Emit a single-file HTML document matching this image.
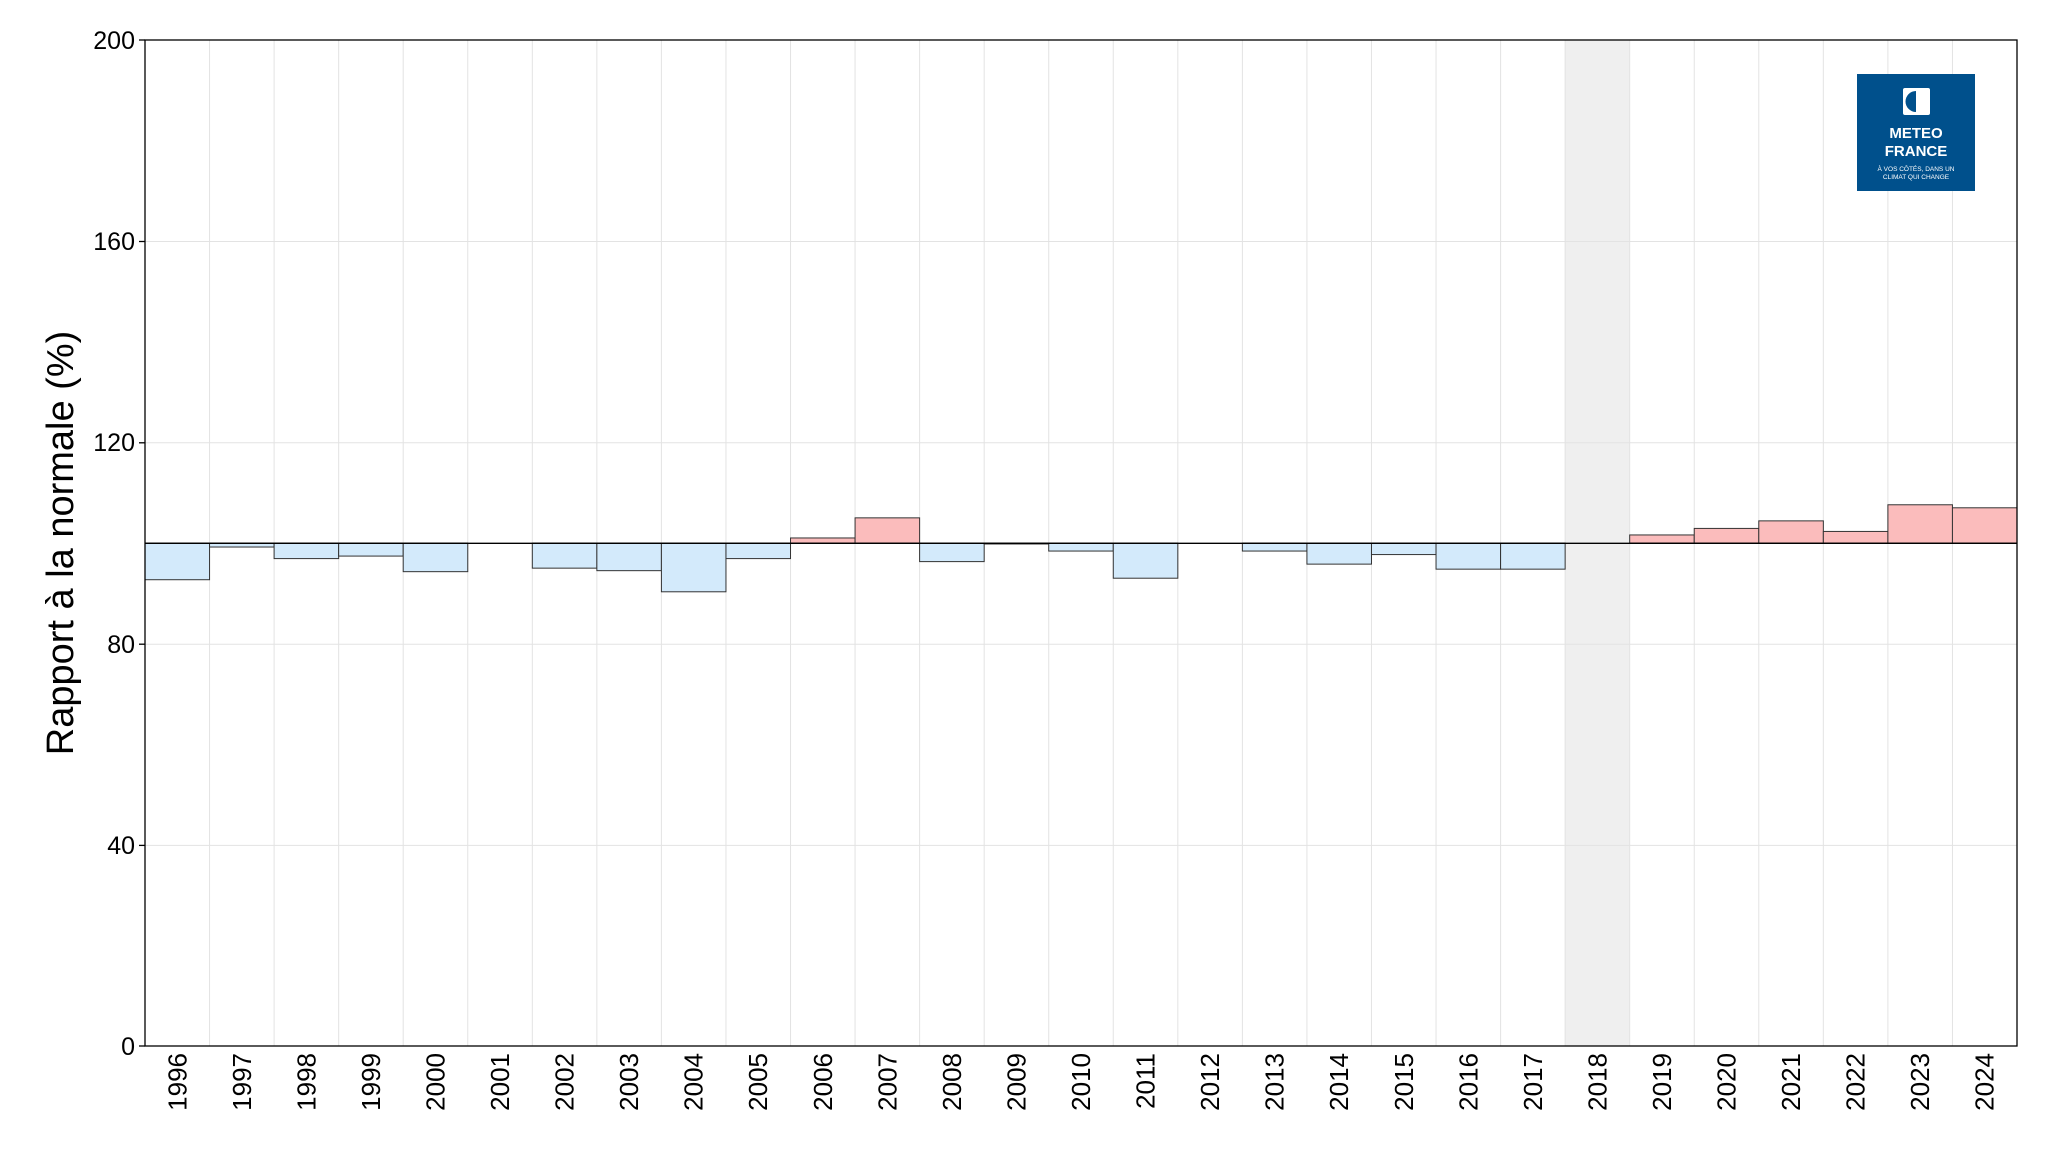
<!DOCTYPE html>
<html><head><meta charset="utf-8"><style>
html,body{margin:0;padding:0;background:#fff}
svg{display:block}
text{font-family:"Liberation Sans",sans-serif}
</style></head><body>
<svg width="2059" height="1156" viewBox="0 0 2059 1156" xmlns="http://www.w3.org/2000/svg">
<rect width="2059" height="1156" fill="#fff"/>
<g id="band"></g>
<g stroke="#e3e3e3" stroke-width="1">
<line x1="145" x2="2017" y1="241.5" y2="241.5"/>
<line x1="145" x2="2017" y1="442.8" y2="442.8"/>
<line x1="145" x2="2017" y1="644.2" y2="644.2"/>
<line x1="145" x2="2017" y1="845.4" y2="845.4"/>
</g>
<g id="vg" stroke="#e3e3e3" stroke-width="1"></g>
<g id="bars" stroke="#333" stroke-width="1"></g>
<line x1="145" x2="2017" y1="543.3" y2="543.3" stroke="#000" stroke-width="1.3"/>
<rect x="145" y="40" width="1872" height="1006" fill="none" stroke="#000" stroke-width="1.3"/>
<g stroke="#000" stroke-width="1.3">
<line x1="139" x2="145" y1="40" y2="40"/><line x1="139" x2="145" y1="241.5" y2="241.5"/>
<line x1="139" x2="145" y1="442.8" y2="442.8"/><line x1="139" x2="145" y1="644.2" y2="644.2"/>
<line x1="139" x2="145" y1="845.4" y2="845.4"/><line x1="139" x2="145" y1="1046" y2="1046"/>
</g>
<g font-size="25" text-anchor="end" fill="#000">
<text x="135" y="49">200</text><text x="135" y="250">160</text><text x="135" y="451">120</text>
<text x="135" y="653">80</text><text x="135" y="854">40</text><text x="135" y="1055">0</text>
</g>
<text transform="translate(73,543) rotate(-90)" font-size="38" text-anchor="middle">Rapport à la normale (%)</text>
<g id="xl" font-size="26" fill="#000"></g>
<rect x="1857" y="74" width="118" height="117" fill="#00508c"/>
<rect x="1903" y="88" width="27" height="27" fill="#fff" rx="2"/>
<path d="M1916 91 a10 10 0 0 0 0 21 z" fill="#00508c"/>
<text x="1916" y="138" font-size="15" font-weight="bold" fill="#fff" text-anchor="middle">METEO</text>
<text x="1916" y="156" font-size="15" font-weight="bold" fill="#fff" text-anchor="middle">FRANCE</text>
<text x="1916" y="171" font-size="6.5" fill="#fff" text-anchor="middle">À VOS CÔTÉS, DANS UN</text>
<text x="1916" y="179" font-size="6.5" fill="#fff" text-anchor="middle">CLIMAT QUI CHANGE</text>
<script>
var v=[92.7,99.2,96.9,97.4,94.3,100,95,94.5,90.3,96.9,101,105,96.3,99.8,98.4,93,100,98.4,95.8,97.7,94.8,94.8,null,101.6,102.9,104.4,102.3,107.6,107];
var ns="http://www.w3.org/2000/svg",w=1872/29,b=document.getElementById('bars'),g=document.getElementById('vg'),xl=document.getElementById('xl');
function y(x){return 1046-5.03*x;}
var bd=document.createElementNS(ns,'rect');bd.setAttribute('x',145+22*w);bd.setAttribute('y',40);bd.setAttribute('width',w);bd.setAttribute('height',1006);bd.setAttribute('fill','#efefef');document.getElementById('band').appendChild(bd);
for(var i=0;i<29;i++){
 var x0=145+i*w;
 if(i>0){var l=document.createElementNS(ns,'line');l.setAttribute('x1',x0);l.setAttribute('x2',x0);l.setAttribute('y1',40);l.setAttribute('y2',1046);g.appendChild(l);}
 var t=document.createElementNS(ns,'text');var cx=x0+w/2+9;
 t.setAttribute('transform','translate('+cx+',1053) rotate(-90)');t.setAttribute('text-anchor','end');t.textContent=1996+i;xl.appendChild(t);
 if(v[i]===null||v[i]==100)continue;
 var r=document.createElementNS(ns,'rect');var a=y(v[i]),c=y(100);
 r.setAttribute('x',x0);r.setAttribute('width',w);r.setAttribute('y',Math.min(a,c));r.setAttribute('height',Math.abs(a-c));
 r.setAttribute('fill',v[i]>100?'#fbbcbc':'#d3eafb');b.appendChild(r);
}
</script>
</svg>
</body></html>
